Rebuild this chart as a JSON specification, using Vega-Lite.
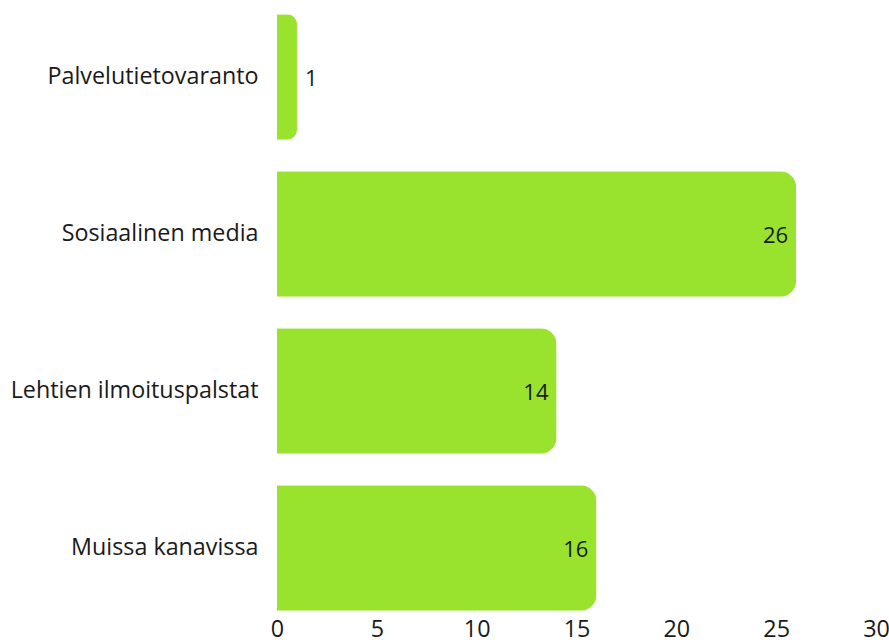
{
  "$schema": "https://vega.github.io/schema/vega-lite/v6.json",
  "width": 599,
  "height": 625,
  "autosize": {"type": "none"},
  "padding": {"left": 277, "top": 0, "right": 13, "bottom": 17},
  "background": "white",
  "config": {"view": {"stroke": null}, "font": "Open Sans"},
  "data": {"values": [
    {"kanava": "Palvelutietovaranto", "arvo": 1},
    {"kanava": "Sosiaalinen media", "arvo": 26},
    {"kanava": "Lehtien ilmoituspalstat", "arvo": 14},
    {"kanava": "Muissa kanavissa", "arvo": 16}
  ]},
  "encoding": {
    "y": {"field": "kanava", "type": "nominal", "sort": null,
      "scale": {"paddingInner": 0.2, "paddingOuter": 0.09},
      "axis": {"title": null, "ticks": false, "domain": false, "labelFontSize": 23.3, "labelColor": "#1a1a1a", "labelPadding": 19, "labelFont": "Open Sans", "labelLimit": 0}},
    "x": {"field": "arvo", "type": "quantitative",
      "scale": {"domain": [0, 30], "nice": false},
      "axis": {"title": null, "ticks": false, "domain": false, "grid": false, "values": [0, 5, 10, 15, 20, 25, 30], "labelFontSize": 23.3, "labelColor": "#1a1a1a", "labelPadding": -7, "labelFont": "Open Sans", "labelFlush": false}}
  },
  "layer": [
    {"mark": {"type": "bar", "color": "#99e22d", "cornerRadiusEnd": 16}},
    {"transform": [{"filter": "datum.arvo >= 5"}],
     "mark": {"type": "text", "align": "right", "dx": -8, "dy": 2, "fontSize": 22, "color": "#1a1a1a", "font": "Open Sans"},
     "encoding": {"text": {"field": "arvo", "type": "quantitative"}}},
    {"transform": [{"filter": "datum.arvo < 5"}],
     "mark": {"type": "text", "align": "left", "dx": 8, "dy": 2, "fontSize": 22, "color": "#1a1a1a", "font": "Open Sans"},
     "encoding": {"text": {"field": "arvo", "type": "quantitative"}}}
  ]
}
